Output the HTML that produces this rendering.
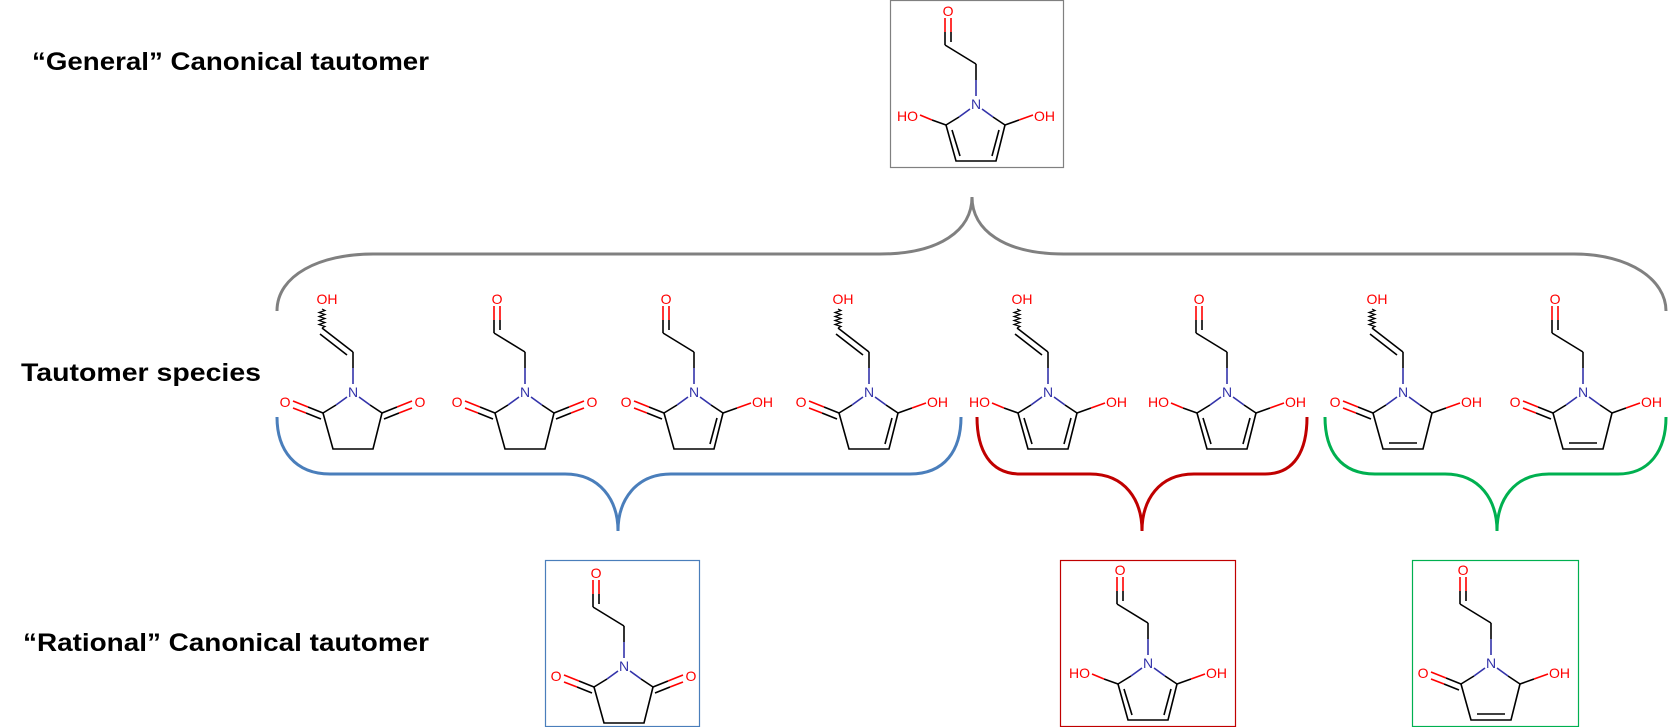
<!DOCTYPE html>
<html><head><meta charset="utf-8"><style>
html,body{margin:0;padding:0;background:#fff;}
svg{display:block;}
.t{font-family:"Liberation Sans",sans-serif;font-weight:bold;font-size:25px;fill:#000;}
.a{font-family:"Liberation Sans",sans-serif;font-size:14px;}
.o{fill:#ff0000;}
.n{fill:#3333aa;}
</style></head><body>
<svg width="1669" height="727" viewBox="0 0 1669 727" xmlns="http://www.w3.org/2000/svg">
<defs>
<g id="ald" fill="none" stroke-width="1.6">
<line x1="0" y1="-8" x2="0" y2="-24" stroke="#3333aa"/>
<line x1="0" y1="-24" x2="0" y2="-40" stroke="#000"/>
<line x1="0" y1="-40" x2="-31" y2="-59" stroke="#000"/>
<line x1="-31" y1="-59" x2="-31" y2="-72" stroke="#000"/>
<line x1="-31" y1="-72" x2="-31" y2="-86" stroke="#f00"/>
<line x1="-25" y1="-62" x2="-25" y2="-72" stroke="#000"/>
<line x1="-25" y1="-72" x2="-25" y2="-86" stroke="#f00"/>
</g>
<g id="enol" fill="none" stroke-width="1.6">
<line x1="0" y1="-8" x2="0" y2="-24" stroke="#3333aa"/>
<line x1="0" y1="-24" x2="0" y2="-40" stroke="#000"/>
<line x1="0" y1="-40" x2="-31" y2="-64" stroke="#000"/>
<line x1="-6" y1="-37" x2="-33" y2="-58" stroke="#000"/>
<path d="M-31,-64 l3,-1.5 l-6,-2 l6,-2 l-6,-2 l6,-2 l-6,-2 l6,-2 l-6,-2 l6,-2 l-3,-1.5" stroke="#000" stroke-width="1.2"/>
</g>
<g id="ring" fill="none" stroke-width="1.6">
<line x1="-6" y1="5" x2="-17" y2="13" stroke="#3333aa"/>
<line x1="-17" y1="13" x2="-30" y2="21" stroke="#000"/>
<line x1="6" y1="5" x2="17" y2="13" stroke="#3333aa"/>
<line x1="17" y1="13" x2="29" y2="21" stroke="#000"/>
<polyline points="-30,21 -20,57 20,57 29,21" stroke="#000"/>
</g>
<g id="coL" fill="none" stroke-width="1.6">
<line x1="-30" y1="21" x2="-45" y2="15" stroke="#000"/>
<line x1="-45" y1="15" x2="-60" y2="9" stroke="#f00"/>
<line x1="-32" y1="27" x2="-47" y2="21" stroke="#000"/>
<line x1="-47" y1="21" x2="-60" y2="16" stroke="#f00"/>
</g>
<g id="coR" fill="none" stroke-width="1.6">
<line x1="29" y1="21" x2="44" y2="15" stroke="#000"/>
<line x1="44" y1="15" x2="59" y2="9" stroke="#f00"/>
<line x1="31" y1="27" x2="46" y2="21" stroke="#000"/>
<line x1="46" y1="21" x2="59" y2="16" stroke="#f00"/>
</g>
<g id="ohL" fill="none" stroke-width="1.6">
<line x1="-30" y1="21" x2="-44" y2="16" stroke="#000"/>
<line x1="-44" y1="16" x2="-56" y2="11" stroke="#f00"/>
</g>
<g id="ohR" fill="none" stroke-width="1.6">
<line x1="29" y1="21" x2="43" y2="16" stroke="#000"/>
<line x1="43" y1="16" x2="57" y2="11" stroke="#f00"/>
</g>
<g id="d23" stroke="#000" stroke-width="1.6"><line x1="-24" y1="26" x2="-16" y2="52"/></g>
<g id="d45" stroke="#000" stroke-width="1.6"><line x1="16" y1="52" x2="23" y2="26"/></g>
<g id="d34" stroke="#000" stroke-width="1.6"><line x1="-14" y1="51" x2="14" y2="51"/></g>
</defs>

<!-- titles -->
<text class="t" x="32" y="70" textLength="397" lengthAdjust="spacingAndGlyphs">“General” Canonical tautomer</text>
<text class="t" x="21" y="381" textLength="240" lengthAdjust="spacingAndGlyphs">Tautomer species</text>
<text class="t" x="23" y="651" textLength="406" lengthAdjust="spacingAndGlyphs">“Rational” Canonical tautomer</text>

<!-- boxes -->
<rect x="890.5" y="0.5" width="173" height="167" fill="none" stroke="#808080" stroke-width="1.2"/>
<rect x="545.5" y="560.5" width="154" height="166" fill="none" stroke="#4a7ebb" stroke-width="1.2"/>
<rect x="1060.5" y="560.5" width="175" height="166" fill="none" stroke="#c00000" stroke-width="1.2"/>
<rect x="1412.5" y="560.5" width="166" height="166" fill="none" stroke="#00b050" stroke-width="1.2"/>

<!-- braces -->
<g fill="none" stroke-width="3">
<path stroke="#808080" d="M277,311 C277,275 320,254 373,254 L880,254 C940,254 972,230 972,197 C972,230 1004,254 1064,254 L1574,254 C1630,254 1666,280 1666,311"/>
<path stroke="#4a7ebb" d="M277,417 C277,450 295,474 330,474 L565,474 C600,474 618,500 618,531 C618,500 636,474 671,474 L910,474 C945,474 961,450 961,417"/>
<path stroke="#c00000" d="M977,417 C977,450 990,474 1020,474 L1090,474 C1125,474 1142,500 1142,531 C1142,500 1159,474 1194,474 L1265,474 C1295,474 1307,450 1307,417"/>
<path stroke="#00b050" d="M1325,417 C1325,450 1340,474 1375,474 L1445,474 C1480,474 1497,500 1497,531 C1497,500 1514,474 1549,474 L1618,474 C1650,474 1666,450 1666,417"/>
</g>

<!-- top general: ald pyrrole -->
<g transform="translate(976,104)">
<use href="#ald"/><use href="#ring"/><use href="#ohL"/><use href="#ohR"/><use href="#d23"/><use href="#d45"/>
<text class="a n" x="0" y="5" text-anchor="middle">N</text>
<text class="a o" x="-28" y="-88" text-anchor="middle">O</text>
<text class="a o" x="-58" y="17" text-anchor="end">HO</text>
<text class="a o" x="58" y="17">OH</text>
</g>

<!-- species 1: enol imide -->
<g transform="translate(353,392)">
<use href="#enol"/><use href="#ring"/><use href="#coL"/><use href="#coR"/>
<text class="a n" x="0" y="5" text-anchor="middle">N</text>
<text class="a o" x="-26" y="-88" text-anchor="middle">OH</text>
<text class="a o" x="-68" y="15" text-anchor="middle">O</text>
<text class="a o" x="67" y="15" text-anchor="middle">O</text>
</g>
<!-- species 2: ald imide -->
<g transform="translate(525,392)">
<use href="#ald"/><use href="#ring"/><use href="#coL"/><use href="#coR"/>
<text class="a n" x="0" y="5" text-anchor="middle">N</text>
<text class="a o" x="-28" y="-88" text-anchor="middle">O</text>
<text class="a o" x="-68" y="15" text-anchor="middle">O</text>
<text class="a o" x="67" y="15" text-anchor="middle">O</text>
</g>
<!-- species 3 -->
<g transform="translate(694,392)">
<use href="#ald"/><use href="#ring"/><use href="#coL"/><use href="#ohR"/><use href="#d45"/>
<text class="a n" x="0" y="5" text-anchor="middle">N</text>
<text class="a o" x="-28" y="-88" text-anchor="middle">O</text>
<text class="a o" x="-68" y="15" text-anchor="middle">O</text>
<text class="a o" x="58" y="15">OH</text>
</g>
<!-- species 4 -->
<g transform="translate(869,392)">
<use href="#enol"/><use href="#ring"/><use href="#coL"/><use href="#ohR"/><use href="#d45"/>
<text class="a n" x="0" y="5" text-anchor="middle">N</text>
<text class="a o" x="-26" y="-88" text-anchor="middle">OH</text>
<text class="a o" x="-68" y="15" text-anchor="middle">O</text>
<text class="a o" x="58" y="15">OH</text>
</g>
<!-- species 5 -->
<g transform="translate(1048,392)">
<use href="#enol"/><use href="#ring"/><use href="#ohL"/><use href="#ohR"/><use href="#d23"/><use href="#d45"/>
<text class="a n" x="0" y="5" text-anchor="middle">N</text>
<text class="a o" x="-26" y="-88" text-anchor="middle">OH</text>
<text class="a o" x="-58" y="15" text-anchor="end">HO</text>
<text class="a o" x="58" y="15">OH</text>
</g>
<!-- species 6 -->
<g transform="translate(1227,392)">
<use href="#ald"/><use href="#ring"/><use href="#ohL"/><use href="#ohR"/><use href="#d23"/><use href="#d45"/>
<text class="a n" x="0" y="5" text-anchor="middle">N</text>
<text class="a o" x="-28" y="-88" text-anchor="middle">O</text>
<text class="a o" x="-58" y="15" text-anchor="end">HO</text>
<text class="a o" x="58" y="15">OH</text>
</g>
<!-- species 7 -->
<g transform="translate(1403,392)">
<use href="#enol"/><use href="#ring"/><use href="#coL"/><use href="#ohR"/><use href="#d34"/>
<text class="a n" x="0" y="5" text-anchor="middle">N</text>
<text class="a o" x="-26" y="-88" text-anchor="middle">OH</text>
<text class="a o" x="-68" y="15" text-anchor="middle">O</text>
<text class="a o" x="58" y="15">OH</text>
</g>
<!-- species 8 -->
<g transform="translate(1583,392)">
<use href="#ald"/><use href="#ring"/><use href="#coL"/><use href="#ohR"/><use href="#d34"/>
<text class="a n" x="0" y="5" text-anchor="middle">N</text>
<text class="a o" x="-28" y="-88" text-anchor="middle">O</text>
<text class="a o" x="-68" y="15" text-anchor="middle">O</text>
<text class="a o" x="58" y="15">OH</text>
</g>

<!-- rational blue -->
<g transform="translate(624,666)">
<use href="#ald"/><use href="#ring"/><use href="#coL"/><use href="#coR"/>
<text class="a n" x="0" y="5" text-anchor="middle">N</text>
<text class="a o" x="-28" y="-88" text-anchor="middle">O</text>
<text class="a o" x="-68" y="15" text-anchor="middle">O</text>
<text class="a o" x="67" y="15" text-anchor="middle">O</text>
</g>
<!-- rational red -->
<g transform="translate(1148,663)">
<use href="#ald"/><use href="#ring"/><use href="#ohL"/><use href="#ohR"/><use href="#d23"/><use href="#d45"/>
<text class="a n" x="0" y="5" text-anchor="middle">N</text>
<text class="a o" x="-28" y="-88" text-anchor="middle">O</text>
<text class="a o" x="-58" y="15" text-anchor="end">HO</text>
<text class="a o" x="58" y="15">OH</text>
</g>
<!-- rational green -->
<g transform="translate(1491,663)">
<use href="#ald"/><use href="#ring"/><use href="#coL"/><use href="#ohR"/><use href="#d34"/>
<text class="a n" x="0" y="5" text-anchor="middle">N</text>
<text class="a o" x="-28" y="-88" text-anchor="middle">O</text>
<text class="a o" x="-68" y="15" text-anchor="middle">O</text>
<text class="a o" x="58" y="15">OH</text>
</g>
</svg>
</body></html>
